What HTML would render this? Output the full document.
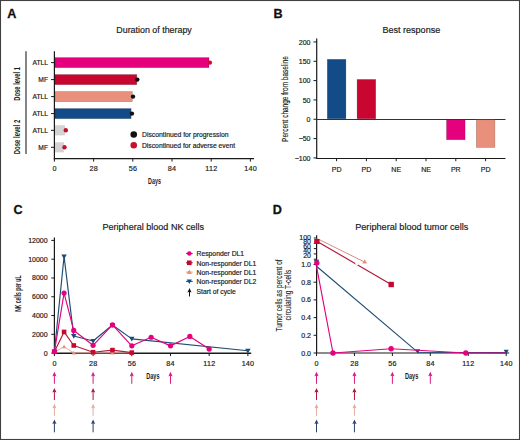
<!DOCTYPE html>
<html><head><meta charset="utf-8"><style>
html,body{margin:0;padding:0;background:#fff;}
svg{display:block;font-family:"Liberation Sans",sans-serif;}
</style></head><body>
<svg width="520" height="440" viewBox="0 0 520 440">
<rect x="0" y="0" width="520" height="440" fill="#fff"/>
<text x="7.3" y="18.2" font-size="12.6" text-anchor="start" fill="#111" stroke="#111" stroke-width="0.3" font-weight="bold" >A</text>
<text x="116.3" y="33" font-size="8.9" text-anchor="start" fill="#1a1a1a" stroke="#1a1a1a" stroke-width="0.18" font-weight="normal" >Duration of therapy</text>
<line x1="54.4" y1="51.3" x2="54.4" y2="159.2" stroke="#1a1a1a" stroke-width="1.2" />
<line x1="53.8" y1="158.6" x2="254" y2="158.6" stroke="#1a1a1a" stroke-width="1.2" />
<line x1="54.4" y1="158.6" x2="54.4" y2="161.6" stroke="#1a1a1a" stroke-width="1.0" />
<text x="54.519999999999996" y="171.2" font-size="7.2" text-anchor="middle" fill="#1a1a1a" stroke="#1a1a1a" stroke-width="0.18" font-weight="normal" letter-spacing="0.25">0</text>
<line x1="93.6" y1="158.6" x2="93.6" y2="161.6" stroke="#1a1a1a" stroke-width="1.0" />
<text x="93.72" y="171.2" font-size="7.2" text-anchor="middle" fill="#1a1a1a" stroke="#1a1a1a" stroke-width="0.18" font-weight="normal" letter-spacing="0.25">28</text>
<line x1="132.8" y1="158.6" x2="132.8" y2="161.6" stroke="#1a1a1a" stroke-width="1.0" />
<text x="132.92000000000002" y="171.2" font-size="7.2" text-anchor="middle" fill="#1a1a1a" stroke="#1a1a1a" stroke-width="0.18" font-weight="normal" letter-spacing="0.25">56</text>
<line x1="172.0" y1="158.6" x2="172.0" y2="161.6" stroke="#1a1a1a" stroke-width="1.0" />
<text x="172.12" y="171.2" font-size="7.2" text-anchor="middle" fill="#1a1a1a" stroke="#1a1a1a" stroke-width="0.18" font-weight="normal" letter-spacing="0.25">84</text>
<line x1="211.20000000000002" y1="158.6" x2="211.20000000000002" y2="161.6" stroke="#1a1a1a" stroke-width="1.0" />
<text x="211.32000000000002" y="171.2" font-size="7.2" text-anchor="middle" fill="#1a1a1a" stroke="#1a1a1a" stroke-width="0.18" font-weight="normal" letter-spacing="0.25">112</text>
<line x1="250.40000000000003" y1="158.6" x2="250.40000000000003" y2="161.6" stroke="#1a1a1a" stroke-width="1.0" />
<text x="250.52000000000004" y="171.2" font-size="7.2" text-anchor="middle" fill="#1a1a1a" stroke="#1a1a1a" stroke-width="0.18" font-weight="normal" letter-spacing="0.25">140</text>
<rect x="55.0" y="57.550000000000004" width="154.0" height="10.1" fill="#E5007E" stroke="rgba(0,0,0,0.28)" stroke-width="0.6"/>
<circle cx="209.9" cy="62.6" r="2.2" fill="#C8102E"/>
<line x1="51" y1="62.6" x2="54.4" y2="62.6" stroke="#1a1a1a" stroke-width="1.0" />
<text x="48" y="65.0" font-size="6.7" text-anchor="end" fill="#1a1a1a" stroke="#1a1a1a" stroke-width="0.18" font-weight="normal" >ATLL</text>
<rect x="55.0" y="74.55" width="81.80000000000001" height="10.1" fill="#C8062F" stroke="rgba(0,0,0,0.28)" stroke-width="0.6"/>
<circle cx="137.3" cy="79.6" r="2.2" fill="#111"/>
<line x1="51" y1="79.6" x2="54.4" y2="79.6" stroke="#1a1a1a" stroke-width="1.0" />
<text x="48" y="82.0" font-size="6.7" text-anchor="end" fill="#1a1a1a" stroke="#1a1a1a" stroke-width="0.18" font-weight="normal" >MF</text>
<rect x="55.0" y="91.55" width="77.30000000000001" height="10.1" fill="#E8907C" stroke="rgba(0,0,0,0.28)" stroke-width="0.6"/>
<circle cx="133.0" cy="96.6" r="2.2" fill="#111"/>
<line x1="51" y1="96.6" x2="54.4" y2="96.6" stroke="#1a1a1a" stroke-width="1.0" />
<text x="48" y="99.0" font-size="6.7" text-anchor="end" fill="#1a1a1a" stroke="#1a1a1a" stroke-width="0.18" font-weight="normal" >ATLL</text>
<rect x="55.0" y="108.55" width="76.1" height="10.1" fill="#134A88" stroke="rgba(0,0,0,0.28)" stroke-width="0.6"/>
<circle cx="131.9" cy="113.6" r="2.2" fill="#111"/>
<line x1="51" y1="113.6" x2="54.4" y2="113.6" stroke="#1a1a1a" stroke-width="1.0" />
<text x="48" y="116.0" font-size="6.7" text-anchor="end" fill="#1a1a1a" stroke="#1a1a1a" stroke-width="0.18" font-weight="normal" >ATLL</text>
<rect x="55.0" y="125.25000000000001" width="10.000000000000002" height="10.1" fill="#D3D3D3"/>
<circle cx="65.8" cy="130.3" r="2.2" fill="#C8102E"/>
<line x1="51" y1="130.3" x2="54.4" y2="130.3" stroke="#1a1a1a" stroke-width="1.0" />
<text x="48" y="132.70000000000002" font-size="6.7" text-anchor="end" fill="#1a1a1a" stroke="#1a1a1a" stroke-width="0.18" font-weight="normal" >ATLL</text>
<rect x="55.0" y="142.25" width="8.9" height="10.1" fill="#D3D3D3"/>
<circle cx="64.5" cy="147.3" r="2.2" fill="#C8102E"/>
<line x1="51" y1="147.3" x2="54.4" y2="147.3" stroke="#1a1a1a" stroke-width="1.0" />
<text x="48" y="149.70000000000002" font-size="6.7" text-anchor="end" fill="#1a1a1a" stroke="#1a1a1a" stroke-width="0.18" font-weight="normal" >MF</text>
<line x1="26" y1="51.3" x2="26" y2="153.9" stroke="#444" stroke-width="1.3" />
<text transform="translate(20.3,83.85) rotate(-90)" x="0" y="0" font-size="8.6" font-weight="bold" text-anchor="middle" textLength="33.7" lengthAdjust="spacingAndGlyphs" fill="#1a1a1a">Dose level 1</text>
<text transform="translate(20.3,137.0) rotate(-90)" x="0" y="0" font-size="8.6" font-weight="bold" text-anchor="middle" textLength="34.5" lengthAdjust="spacingAndGlyphs" fill="#1a1a1a">Dose level 2</text>
<circle cx="133.75" cy="134.5" r="3.3" fill="#111"/>
<text x="142" y="137.0" font-size="6.8" text-anchor="start" fill="#1a1a1a" stroke="#1a1a1a" stroke-width="0.18" font-weight="normal" >Discontinued for progression</text>
<circle cx="133.75" cy="145.3" r="3.3" fill="#C8102E"/>
<text x="142" y="147.9" font-size="6.75" text-anchor="start" fill="#1a1a1a" stroke="#1a1a1a" stroke-width="0.18" font-weight="normal" >Discontinued for adverse event</text>
<text x="154.5" y="184.1" font-size="8.8" font-weight="bold" text-anchor="middle" textLength="12.8" lengthAdjust="spacingAndGlyphs" fill="#1a1a1a">Days</text>
<text x="273.5" y="18.3" font-size="12.6" text-anchor="start" fill="#111" stroke="#111" stroke-width="0.3" font-weight="bold" >B</text>
<text x="382.4" y="32.9" font-size="9.05" text-anchor="start" fill="#1a1a1a" stroke="#1a1a1a" stroke-width="0.18" font-weight="normal" >Best response</text>
<line x1="316.7" y1="38.5" x2="316.7" y2="158.8" stroke="#1a1a1a" stroke-width="1.2" />
<line x1="316.09999999999997" y1="158.5" x2="505.5" y2="158.5" stroke="#1a1a1a" stroke-width="1.2" />
<line x1="313.5" y1="41.95" x2="316.7" y2="41.95" stroke="#1a1a1a" stroke-width="1.0" />
<text x="310.5" y="44.650000000000006" font-size="7" text-anchor="end" fill="#1a1a1a" stroke="#1a1a1a" stroke-width="0.18" font-weight="normal" >200</text>
<line x1="313.5" y1="61.275" x2="316.7" y2="61.275" stroke="#1a1a1a" stroke-width="1.0" />
<text x="310.5" y="63.975" font-size="7" text-anchor="end" fill="#1a1a1a" stroke="#1a1a1a" stroke-width="0.18" font-weight="normal" >150</text>
<line x1="313.5" y1="80.6" x2="316.7" y2="80.6" stroke="#1a1a1a" stroke-width="1.0" />
<text x="310.5" y="83.3" font-size="7" text-anchor="end" fill="#1a1a1a" stroke="#1a1a1a" stroke-width="0.18" font-weight="normal" >100</text>
<line x1="313.5" y1="99.925" x2="316.7" y2="99.925" stroke="#1a1a1a" stroke-width="1.0" />
<text x="310.5" y="102.625" font-size="7" text-anchor="end" fill="#1a1a1a" stroke="#1a1a1a" stroke-width="0.18" font-weight="normal" >50</text>
<line x1="313.5" y1="119.25" x2="316.7" y2="119.25" stroke="#1a1a1a" stroke-width="1.0" />
<text x="310.5" y="121.95" font-size="7" text-anchor="end" fill="#1a1a1a" stroke="#1a1a1a" stroke-width="0.18" font-weight="normal" >0</text>
<line x1="313.5" y1="138.575" x2="316.7" y2="138.575" stroke="#1a1a1a" stroke-width="1.0" />
<text x="310.5" y="141.27499999999998" font-size="7" text-anchor="end" fill="#1a1a1a" stroke="#1a1a1a" stroke-width="0.18" font-weight="normal" >&#8722;50</text>
<line x1="313.5" y1="157.9" x2="316.7" y2="157.9" stroke="#1a1a1a" stroke-width="1.0" />
<text x="310.5" y="160.6" font-size="7" text-anchor="end" fill="#1a1a1a" stroke="#1a1a1a" stroke-width="0.18" font-weight="normal" >&#8722;100</text>
<line x1="316.7" y1="119.45" x2="505.5" y2="119.45" stroke="#333" stroke-width="1.1" />
<line x1="336.6" y1="158.2" x2="336.6" y2="161.2" stroke="#1a1a1a" stroke-width="1.0" />
<text x="336.6" y="171.7" font-size="7" text-anchor="middle" fill="#1a1a1a" stroke="#1a1a1a" stroke-width="0.18" font-weight="normal" >PD</text>
<rect x="327.3" y="59.3425" width="18.6" height="59.4075" fill="#134A88" stroke="rgba(0,0,0,0.28)" stroke-width="0.6"/>
<line x1="366.40000000000003" y1="158.2" x2="366.40000000000003" y2="161.2" stroke="#1a1a1a" stroke-width="1.0" />
<text x="366.40000000000003" y="171.7" font-size="7" text-anchor="middle" fill="#1a1a1a" stroke="#1a1a1a" stroke-width="0.18" font-weight="normal" >PD</text>
<rect x="357.1" y="79.4405" width="18.6" height="39.3095" fill="#C8062F" stroke="rgba(0,0,0,0.28)" stroke-width="0.6"/>
<line x1="396.20000000000005" y1="158.2" x2="396.20000000000005" y2="161.2" stroke="#1a1a1a" stroke-width="1.0" />
<text x="396.20000000000005" y="171.7" font-size="7" text-anchor="middle" fill="#1a1a1a" stroke="#1a1a1a" stroke-width="0.18" font-weight="normal" >NE</text>
<line x1="426.0" y1="158.2" x2="426.0" y2="161.2" stroke="#1a1a1a" stroke-width="1.0" />
<text x="426.0" y="171.7" font-size="7" text-anchor="middle" fill="#1a1a1a" stroke="#1a1a1a" stroke-width="0.18" font-weight="normal" >NE</text>
<line x1="455.8" y1="158.2" x2="455.8" y2="161.2" stroke="#1a1a1a" stroke-width="1.0" />
<text x="455.8" y="171.7" font-size="7" text-anchor="middle" fill="#1a1a1a" stroke="#1a1a1a" stroke-width="0.18" font-weight="normal" >PR</text>
<rect x="446.5" y="119.75" width="18.6" height="19.9845" fill="#E5007E" stroke="rgba(0,0,0,0.28)" stroke-width="0.6"/>
<line x1="485.6" y1="158.2" x2="485.6" y2="161.2" stroke="#1a1a1a" stroke-width="1.0" />
<text x="485.6" y="171.7" font-size="7" text-anchor="middle" fill="#1a1a1a" stroke="#1a1a1a" stroke-width="0.18" font-weight="normal" >PD</text>
<rect x="476.3" y="119.75" width="18.6" height="27.7145" fill="#E8907C" stroke="rgba(0,0,0,0.28)" stroke-width="0.6"/>
<text transform="translate(288.2,99.0) rotate(-90)" x="0" y="0" font-size="8.6" font-weight="normal" text-anchor="middle" textLength="85.8" lengthAdjust="spacingAndGlyphs" fill="#1a1a1a" stroke="#222" stroke-width="0.15">Percent change from baseline</text>
<text x="13.6" y="214.3" font-size="12.6" text-anchor="start" fill="#111" stroke="#111" stroke-width="0.3" font-weight="bold" >C</text>
<text x="102.5" y="229.9" font-size="9.05" text-anchor="start" fill="#1a1a1a" stroke="#1a1a1a" stroke-width="0.18" font-weight="normal" >Peripheral blood NK cells</text>
<line x1="54.4" y1="237.4" x2="54.4" y2="353.4" stroke="#1a1a1a" stroke-width="1.2" />
<line x1="53.8" y1="353.20000000000005" x2="251.2" y2="353.20000000000005" stroke="#1a1a1a" stroke-width="1.4" />
<line x1="51.3" y1="353.1" x2="54.4" y2="353.1" stroke="#1a1a1a" stroke-width="1.0" />
<text x="47.6" y="355.6" font-size="7" text-anchor="end" fill="#1a1a1a" stroke="#1a1a1a" stroke-width="0.18" font-weight="normal" >0</text>
<line x1="51.3" y1="334.32000000000005" x2="54.4" y2="334.32000000000005" stroke="#1a1a1a" stroke-width="1.0" />
<text x="47.6" y="336.82000000000005" font-size="7" text-anchor="end" fill="#1a1a1a" stroke="#1a1a1a" stroke-width="0.18" font-weight="normal" >2000</text>
<line x1="51.3" y1="315.54" x2="54.4" y2="315.54" stroke="#1a1a1a" stroke-width="1.0" />
<text x="47.6" y="318.04" font-size="7" text-anchor="end" fill="#1a1a1a" stroke="#1a1a1a" stroke-width="0.18" font-weight="normal" >4000</text>
<line x1="51.3" y1="296.76" x2="54.4" y2="296.76" stroke="#1a1a1a" stroke-width="1.0" />
<text x="47.6" y="299.26" font-size="7" text-anchor="end" fill="#1a1a1a" stroke="#1a1a1a" stroke-width="0.18" font-weight="normal" >6000</text>
<line x1="51.3" y1="277.98" x2="54.4" y2="277.98" stroke="#1a1a1a" stroke-width="1.0" />
<text x="47.6" y="280.48" font-size="7" text-anchor="end" fill="#1a1a1a" stroke="#1a1a1a" stroke-width="0.18" font-weight="normal" >8000</text>
<line x1="51.3" y1="259.20000000000005" x2="54.4" y2="259.20000000000005" stroke="#1a1a1a" stroke-width="1.0" />
<text x="47.6" y="261.70000000000005" font-size="7" text-anchor="end" fill="#1a1a1a" stroke="#1a1a1a" stroke-width="0.18" font-weight="normal" >10000</text>
<line x1="51.3" y1="240.42000000000002" x2="54.4" y2="240.42000000000002" stroke="#1a1a1a" stroke-width="1.0" />
<text x="47.6" y="242.92000000000002" font-size="7" text-anchor="end" fill="#1a1a1a" stroke="#1a1a1a" stroke-width="0.18" font-weight="normal" >12000</text>
<line x1="54.4" y1="353.1" x2="54.4" y2="356.1" stroke="#1a1a1a" stroke-width="1.0" />
<text x="54.519999999999996" y="366.1" font-size="7.2" text-anchor="middle" fill="#1a1a1a" stroke="#1a1a1a" stroke-width="0.18" font-weight="normal" letter-spacing="0.25">0</text>
<line x1="93.096" y1="353.1" x2="93.096" y2="356.1" stroke="#1a1a1a" stroke-width="1.0" />
<text x="93.21600000000001" y="366.1" font-size="7.2" text-anchor="middle" fill="#1a1a1a" stroke="#1a1a1a" stroke-width="0.18" font-weight="normal" letter-spacing="0.25">28</text>
<line x1="131.792" y1="353.1" x2="131.792" y2="356.1" stroke="#1a1a1a" stroke-width="1.0" />
<text x="131.912" y="366.1" font-size="7.2" text-anchor="middle" fill="#1a1a1a" stroke="#1a1a1a" stroke-width="0.18" font-weight="normal" letter-spacing="0.25">56</text>
<line x1="170.488" y1="353.1" x2="170.488" y2="356.1" stroke="#1a1a1a" stroke-width="1.0" />
<text x="170.608" y="366.1" font-size="7.2" text-anchor="middle" fill="#1a1a1a" stroke="#1a1a1a" stroke-width="0.18" font-weight="normal" letter-spacing="0.25">84</text>
<line x1="209.184" y1="353.1" x2="209.184" y2="356.1" stroke="#1a1a1a" stroke-width="1.0" />
<text x="209.304" y="366.1" font-size="7.2" text-anchor="middle" fill="#1a1a1a" stroke="#1a1a1a" stroke-width="0.18" font-weight="normal" letter-spacing="0.25">112</text>
<line x1="247.88" y1="353.1" x2="247.88" y2="356.1" stroke="#1a1a1a" stroke-width="1.0" />
<text x="248.0" y="366.1" font-size="7.2" text-anchor="middle" fill="#1a1a1a" stroke="#1a1a1a" stroke-width="0.18" font-weight="normal" letter-spacing="0.25">140</text>
<polyline points="54.40,352.16 64.07,346.69 73.75,352.91 93.10,352.91 112.44,352.91 131.79,352.91" fill="none" stroke="#E4A497" stroke-width="0.9" stroke-linejoin="round"/>
<polyline points="54.40,351.69 64.07,331.94 73.75,345.48 93.10,352.20 112.44,350.10 131.79,352.60" fill="none" stroke="#B51A3E" stroke-width="1.15" stroke-linejoin="round"/>
<polyline points="54.40,351.69 64.07,256.38 73.75,336.06 93.10,340.97 112.44,325.02 131.79,338.86 247.88,350.70" fill="none" stroke="#1F4C74" stroke-width="1.15" stroke-linejoin="round"/>
<polyline points="54.40,351.69 64.07,293.04 73.75,330.44 93.10,345.31 112.44,324.93 131.79,345.79 151.14,337.26 170.49,345.87 189.84,336.45 209.18,349.09" fill="none" stroke="#E5007E" stroke-width="1.15" stroke-linejoin="round"/>
<path d="M54.40,350.07 L56.49,353.68 L52.31,353.68Z" fill="#E8907C"/>
<path d="M64.07,344.60 L66.16,348.21 L61.98,348.21Z" fill="#E8907C"/>
<path d="M73.75,350.82 L75.84,354.43 L71.66,354.43Z" fill="#E8907C"/>
<path d="M93.10,350.82 L95.19,354.43 L91.01,354.43Z" fill="#E8907C"/>
<path d="M112.44,350.82 L114.53,354.43 L110.35,354.43Z" fill="#E8907C"/>
<path d="M131.79,350.82 L133.88,354.43 L129.70,354.43Z" fill="#E8907C"/>
<rect x="52.1" y="349.3915" width="4.6" height="4.6" fill="#C8062F"/>
<rect x="61.774" y="329.64433" width="4.6" height="4.6" fill="#C8062F"/>
<rect x="71.448" y="343.18471" width="4.6" height="4.6" fill="#C8062F"/>
<rect x="90.796" y="349.89856000000003" width="4.6" height="4.6" fill="#C8062F"/>
<rect x="110.14399999999999" y="347.7952" width="4.6" height="4.6" fill="#C8062F"/>
<rect x="129.492" y="350.30233" width="4.6" height="4.6" fill="#C8062F"/>
<path d="M54.40,354.44 L57.15,349.69 L51.65,349.69Z" fill="#1F4C74"/>
<path d="M64.07,259.13 L66.82,254.38 L61.32,254.38Z" fill="#1F4C74"/>
<path d="M73.75,338.81 L76.50,334.06 L71.00,334.06Z" fill="#1F4C74"/>
<path d="M93.10,343.72 L95.85,338.97 L90.35,338.97Z" fill="#1F4C74"/>
<path d="M112.44,327.77 L115.19,323.02 L109.69,323.02Z" fill="#1F4C74"/>
<path d="M131.79,341.61 L134.54,336.86 L129.04,336.86Z" fill="#1F4C74"/>
<path d="M247.88,353.45 L250.63,348.70 L245.13,348.70Z" fill="#1F4C74"/>
<circle cx="54.4" cy="351.6915" r="2.6" fill="#E5007E"/>
<circle cx="64.074" cy="293.04156" r="2.6" fill="#E5007E"/>
<circle cx="73.74799999999999" cy="330.44193" r="2.6" fill="#E5007E"/>
<circle cx="93.096" cy="345.3063" r="2.6" fill="#E5007E"/>
<circle cx="112.44399999999999" cy="324.93" r="2.6" fill="#E5007E"/>
<circle cx="131.792" cy="345.79458" r="2.6" fill="#E5007E"/>
<circle cx="151.14" cy="337.25907" r="2.6" fill="#E5007E"/>
<circle cx="170.488" cy="345.8697" r="2.6" fill="#E5007E"/>
<circle cx="189.83599999999998" cy="336.45153000000005" r="2.6" fill="#E5007E"/>
<circle cx="209.184" cy="349.09047000000004" r="2.6" fill="#E5007E"/>
<line x1="186" y1="253.5" x2="192.7" y2="253.5" stroke="#E5007E" stroke-width="1.0" />
<circle cx="189.3" cy="253.5" r="2.3" fill="#E5007E"/>
<text x="196.5" y="256.2" font-size="6.8" text-anchor="start" fill="#1a1a1a" stroke="#1a1a1a" stroke-width="0.18" font-weight="normal" >Responder DL1</text>
<line x1="186" y1="262.8" x2="192.7" y2="262.8" stroke="#C8062F" stroke-width="1.0" />
<rect x="187.0" y="260.5" width="4.6" height="4.6" fill="#C8062F"/>
<text x="196.5" y="265.5" font-size="6.8" text-anchor="start" fill="#1a1a1a" stroke="#1a1a1a" stroke-width="0.18" font-weight="normal" >Non-responder DL1</text>
<line x1="186" y1="272.1" x2="192.7" y2="272.1" stroke="#E8907C" stroke-width="1.0" />
<path d="M189.30,269.57 L191.83,273.94 L186.77,273.94Z" fill="#E8907C"/>
<text x="196.5" y="274.8" font-size="6.8" text-anchor="start" fill="#1a1a1a" stroke="#1a1a1a" stroke-width="0.18" font-weight="normal" >Non-responder DL1</text>
<line x1="186" y1="281.4" x2="192.7" y2="281.4" stroke="#134A88" stroke-width="1.0" />
<path d="M189.30,283.93 L191.83,279.56 L186.77,279.56Z" fill="#134A88"/>
<text x="196.5" y="284.09999999999997" font-size="6.8" text-anchor="start" fill="#1a1a1a" stroke="#1a1a1a" stroke-width="0.18" font-weight="normal" >Non-responder DL2</text>
<line x1="189.5" y1="290.5" x2="189.5" y2="296.5" stroke="#111" stroke-width="1.0" />
<path d="M189.5,288 L191.6,292.6 L189.5,291.8 L187.4,292.6Z" fill="#111"/>
<text x="196.5" y="293.9" font-size="6.8" text-anchor="start" fill="#1a1a1a" stroke="#1a1a1a" stroke-width="0.18" font-weight="normal" >Start of cycle</text>
<text transform="translate(21.3,293.7) rotate(-90)" x="0" y="0" font-size="8.6" font-weight="bold" text-anchor="middle" textLength="36.3" lengthAdjust="spacingAndGlyphs" fill="#1a1a1a">NK cells per uL</text>
<text x="152.9" y="378.8" font-size="8.8" font-weight="bold" text-anchor="middle" textLength="13.2" lengthAdjust="spacingAndGlyphs" fill="#1a1a1a">Days</text>
<line x1="54.4" y1="374.3" x2="54.4" y2="383.8" stroke="#D41C80" stroke-width="1.0" />
<path d="M54.4,371.8 L56.5,376.40000000000003 L54.4,375.6 L52.3,376.40000000000003Z" fill="#D41C80"/>
<line x1="93.096" y1="374.3" x2="93.096" y2="383.8" stroke="#D41C80" stroke-width="1.0" />
<path d="M93.096,371.8 L95.196,376.40000000000003 L93.096,375.6 L90.99600000000001,376.40000000000003Z" fill="#D41C80"/>
<line x1="131.792" y1="374.3" x2="131.792" y2="383.8" stroke="#D41C80" stroke-width="1.0" />
<path d="M131.792,371.8 L133.892,376.40000000000003 L131.792,375.6 L129.692,376.40000000000003Z" fill="#D41C80"/>
<line x1="170.488" y1="374.3" x2="170.488" y2="383.8" stroke="#D41C80" stroke-width="1.0" />
<path d="M170.488,371.8 L172.588,376.40000000000003 L170.488,375.6 L168.388,376.40000000000003Z" fill="#D41C80"/>
<line x1="54.4" y1="390.5" x2="54.4" y2="400" stroke="#A81840" stroke-width="1.0" />
<path d="M54.4,388 L56.5,392.6 L54.4,391.8 L52.3,392.6Z" fill="#A81840"/>
<line x1="54.4" y1="406.3" x2="54.4" y2="415.8" stroke="#E2AC9F" stroke-width="1.0" />
<path d="M54.4,403.8 L56.5,408.40000000000003 L54.4,407.6 L52.3,408.40000000000003Z" fill="#E2AC9F"/>
<line x1="54.4" y1="422.0" x2="54.4" y2="432.3" stroke="#2A4264" stroke-width="1.0" />
<path d="M54.4,419.5 L56.5,424.1 L54.4,423.3 L52.3,424.1Z" fill="#2A4264"/>
<line x1="93.096" y1="390.5" x2="93.096" y2="400" stroke="#A81840" stroke-width="1.0" />
<path d="M93.096,388 L95.196,392.6 L93.096,391.8 L90.99600000000001,392.6Z" fill="#A81840"/>
<line x1="93.096" y1="406.3" x2="93.096" y2="415.8" stroke="#E2AC9F" stroke-width="1.0" />
<path d="M93.096,403.8 L95.196,408.40000000000003 L93.096,407.6 L90.99600000000001,408.40000000000003Z" fill="#E2AC9F"/>
<line x1="93.096" y1="422.0" x2="93.096" y2="432.3" stroke="#2A4264" stroke-width="1.0" />
<path d="M93.096,419.5 L95.196,424.1 L93.096,423.3 L90.99600000000001,424.1Z" fill="#2A4264"/>
<text x="272.7" y="214.1" font-size="12.6" text-anchor="start" fill="#111" stroke="#111" stroke-width="0.3" font-weight="bold" >D</text>
<text x="355.2" y="229.9" font-size="9.15" text-anchor="start" fill="#1a1a1a" stroke="#1a1a1a" stroke-width="0.18" font-weight="normal" >Peripheral blood tumor cells</text>
<line x1="316.6" y1="235.3" x2="316.6" y2="353.6" stroke="#1a1a1a" stroke-width="1.2" />
<line x1="316.0" y1="353" x2="509.2" y2="353" stroke="#1a1a1a" stroke-width="1.2" />
<line x1="313.6" y1="353.0" x2="316.6" y2="353.0" stroke="#1a1a1a" stroke-width="1.0" />
<text x="311" y="355.5" font-size="7" text-anchor="end" fill="#1a1a1a" stroke="#1a1a1a" stroke-width="0.18" font-weight="normal" >0.0</text>
<line x1="313.6" y1="335.3" x2="316.6" y2="335.3" stroke="#1a1a1a" stroke-width="1.0" />
<text x="311" y="337.8" font-size="7" text-anchor="end" fill="#1a1a1a" stroke="#1a1a1a" stroke-width="0.18" font-weight="normal" >0.2</text>
<line x1="313.6" y1="317.6" x2="316.6" y2="317.6" stroke="#1a1a1a" stroke-width="1.0" />
<text x="311" y="320.1" font-size="7" text-anchor="end" fill="#1a1a1a" stroke="#1a1a1a" stroke-width="0.18" font-weight="normal" >0.4</text>
<line x1="313.6" y1="299.9" x2="316.6" y2="299.9" stroke="#1a1a1a" stroke-width="1.0" />
<text x="311" y="302.4" font-size="7" text-anchor="end" fill="#1a1a1a" stroke="#1a1a1a" stroke-width="0.18" font-weight="normal" >0.6</text>
<line x1="313.6" y1="282.2" x2="316.6" y2="282.2" stroke="#1a1a1a" stroke-width="1.0" />
<text x="311" y="284.7" font-size="7" text-anchor="end" fill="#1a1a1a" stroke="#1a1a1a" stroke-width="0.18" font-weight="normal" >0.8</text>
<line x1="313.6" y1="264.5" x2="316.6" y2="264.5" stroke="#1a1a1a" stroke-width="1.0" />
<text x="311" y="267.0" font-size="7" text-anchor="end" fill="#1a1a1a" stroke="#1a1a1a" stroke-width="0.18" font-weight="normal" >1.0</text>
<line x1="313.8" y1="238.0" x2="316.6" y2="238.0" stroke="#1a1a1a" stroke-width="1.0" />
<text x="311" y="240.0" font-size="7" text-anchor="end" fill="#1a1a1a" stroke="#1a1a1a" stroke-width="0.18" font-weight="normal" >100</text>
<line x1="313.8" y1="243.3" x2="316.6" y2="243.3" stroke="#1a1a1a" stroke-width="1.0" />
<text x="311" y="244.3" font-size="7" text-anchor="end" fill="#1a1a1a" stroke="#1a1a1a" stroke-width="0.18" font-weight="normal" >80</text>
<line x1="313.8" y1="248.6" x2="316.6" y2="248.6" stroke="#1a1a1a" stroke-width="1.0" />
<text x="311" y="248.7" font-size="7" text-anchor="end" fill="#1a1a1a" stroke="#1a1a1a" stroke-width="0.18" font-weight="normal" >60</text>
<line x1="313.8" y1="253.9" x2="316.6" y2="253.9" stroke="#1a1a1a" stroke-width="1.0" />
<text x="311" y="253.2" font-size="7" text-anchor="end" fill="#1a1a1a" stroke="#1a1a1a" stroke-width="0.18" font-weight="normal" >40</text>
<line x1="313.8" y1="259.2" x2="316.6" y2="259.2" stroke="#1a1a1a" stroke-width="1.0" />
<text x="311" y="257.8" font-size="7" text-anchor="end" fill="#1a1a1a" stroke="#1a1a1a" stroke-width="0.18" font-weight="normal" >20</text>
<line x1="316.5" y1="353" x2="316.5" y2="356" stroke="#1a1a1a" stroke-width="1.0" />
<text x="316.62" y="366.1" font-size="7.2" text-anchor="middle" fill="#1a1a1a" stroke="#1a1a1a" stroke-width="0.18" font-weight="normal" letter-spacing="0.25">0</text>
<line x1="354.44" y1="353" x2="354.44" y2="356" stroke="#1a1a1a" stroke-width="1.0" />
<text x="354.56" y="366.1" font-size="7.2" text-anchor="middle" fill="#1a1a1a" stroke="#1a1a1a" stroke-width="0.18" font-weight="normal" letter-spacing="0.25">28</text>
<line x1="392.38" y1="353" x2="392.38" y2="356" stroke="#1a1a1a" stroke-width="1.0" />
<text x="392.5" y="366.1" font-size="7.2" text-anchor="middle" fill="#1a1a1a" stroke="#1a1a1a" stroke-width="0.18" font-weight="normal" letter-spacing="0.25">56</text>
<line x1="430.32" y1="353" x2="430.32" y2="356" stroke="#1a1a1a" stroke-width="1.0" />
<text x="430.44" y="366.1" font-size="7.2" text-anchor="middle" fill="#1a1a1a" stroke="#1a1a1a" stroke-width="0.18" font-weight="normal" letter-spacing="0.25">84</text>
<line x1="468.26" y1="353" x2="468.26" y2="356" stroke="#1a1a1a" stroke-width="1.0" />
<text x="468.38" y="366.1" font-size="7.2" text-anchor="middle" fill="#1a1a1a" stroke="#1a1a1a" stroke-width="0.18" font-weight="normal" letter-spacing="0.25">112</text>
<line x1="506.2" y1="353" x2="506.2" y2="356" stroke="#1a1a1a" stroke-width="1.0" />
<text x="506.32" y="366.1" font-size="7.2" text-anchor="middle" fill="#1a1a1a" stroke="#1a1a1a" stroke-width="0.18" font-weight="normal" letter-spacing="0.25">140</text>
<line x1="316.6" y1="238.3" x2="364.5" y2="262.0" stroke="#D98A86" stroke-width="1.0" />
<path d="M367.2,263.4 L362.2,263.6 L364.6,259.3Z" fill="#E8907C"/>
<line x1="316.8" y1="241.2" x2="391.2" y2="284.5" stroke="#B0183A" stroke-width="1.15" />
<line x1="355.4" y1="263.4" x2="357.8" y2="264.8" stroke="#fff" stroke-width="1.6"/>
<rect x="314.2" y="239.0" width="5.4" height="5.0" fill="#C8062F"/>
<rect x="388.5" y="281.8" width="5.4" height="5.4" fill="#C8062F"/>
<polyline points="316.50,266.27 417.70,352.20 506.20,352.60" fill="none" stroke="#1F4C74" stroke-width="1.1" stroke-linejoin="round"/>
<path d="M417.70,353.73 L420.23,349.36 L415.17,349.36Z" fill="#1F4C74"/>
<path d="M506.20,354.13 L508.73,349.76 L503.67,349.76Z" fill="#1F4C74"/>
<polyline points="316.50,266.27 333.00,353.00 391.10,348.80 465.80,353.00 506.20,353.00" fill="none" stroke="#E5007E" stroke-width="1.15" stroke-linejoin="round"/>
<path d="M316.50,264.55 L319.25,259.80 L313.75,259.80Z" fill="#1F4C74"/>
<circle cx="316.8" cy="262.9" r="2.7" fill="#E5007E"/>
<circle cx="333" cy="353" r="2.7" fill="#E5007E"/>
<circle cx="391.1" cy="348.8" r="2.7" fill="#E5007E"/>
<circle cx="465.8" cy="353" r="2.7" fill="#E5007E"/>
<text transform="translate(281.5,295.45) rotate(-90)" x="0" y="0" font-size="8.6" font-weight="normal" text-anchor="middle" textLength="71.9" lengthAdjust="spacingAndGlyphs" fill="#1a1a1a" stroke="#222" stroke-width="0.1">Tumor cells as percent of</text>
<text transform="translate(291.0,295.1) rotate(-90)" x="0" y="0" font-size="8.6" font-weight="normal" text-anchor="middle" textLength="50.6" lengthAdjust="spacingAndGlyphs" fill="#1a1a1a" stroke="#222" stroke-width="0.1">circulating T-cells</text>
<text x="411.6" y="379.0" font-size="8.8" font-weight="bold" text-anchor="middle" textLength="13.4" lengthAdjust="spacingAndGlyphs" fill="#1a1a1a">Days</text>
<line x1="316.5" y1="374.2" x2="316.5" y2="383.8" stroke="#D41C80" stroke-width="1.0" />
<path d="M316.5,371.7 L318.6,376.3 L316.5,375.5 L314.4,376.3Z" fill="#D41C80"/>
<line x1="354.44" y1="374.2" x2="354.44" y2="383.8" stroke="#D41C80" stroke-width="1.0" />
<path d="M354.44,371.7 L356.54,376.3 L354.44,375.5 L352.34,376.3Z" fill="#D41C80"/>
<line x1="392.38" y1="374.2" x2="392.38" y2="383.8" stroke="#D41C80" stroke-width="1.0" />
<path d="M392.38,371.7 L394.48,376.3 L392.38,375.5 L390.28,376.3Z" fill="#D41C80"/>
<line x1="430.32" y1="374.2" x2="430.32" y2="383.8" stroke="#D41C80" stroke-width="1.0" />
<path d="M430.32,371.7 L432.42,376.3 L430.32,375.5 L428.21999999999997,376.3Z" fill="#D41C80"/>
<line x1="316.5" y1="390.5" x2="316.5" y2="400" stroke="#A81840" stroke-width="1.0" />
<path d="M316.5,388 L318.6,392.6 L316.5,391.8 L314.4,392.6Z" fill="#A81840"/>
<line x1="316.5" y1="406.3" x2="316.5" y2="415.8" stroke="#E2AC9F" stroke-width="1.0" />
<path d="M316.5,403.8 L318.6,408.40000000000003 L316.5,407.6 L314.4,408.40000000000003Z" fill="#E2AC9F"/>
<line x1="316.5" y1="422.0" x2="316.5" y2="432.3" stroke="#2A4264" stroke-width="1.0" />
<path d="M316.5,419.5 L318.6,424.1 L316.5,423.3 L314.4,424.1Z" fill="#2A4264"/>
<line x1="354.44" y1="390.5" x2="354.44" y2="400" stroke="#A81840" stroke-width="1.0" />
<path d="M354.44,388 L356.54,392.6 L354.44,391.8 L352.34,392.6Z" fill="#A81840"/>
<line x1="354.44" y1="406.3" x2="354.44" y2="415.8" stroke="#E2AC9F" stroke-width="1.0" />
<path d="M354.44,403.8 L356.54,408.40000000000003 L354.44,407.6 L352.34,408.40000000000003Z" fill="#E2AC9F"/>
<line x1="354.44" y1="422.0" x2="354.44" y2="432.3" stroke="#2A4264" stroke-width="1.0" />
<path d="M354.44,419.5 L356.54,424.1 L354.44,423.3 L352.34,424.1Z" fill="#2A4264"/>
<rect x="0.5" y="0.5" width="519" height="439" fill="none" stroke="#404040" stroke-width="1.1"/>
</svg>
</body></html>
